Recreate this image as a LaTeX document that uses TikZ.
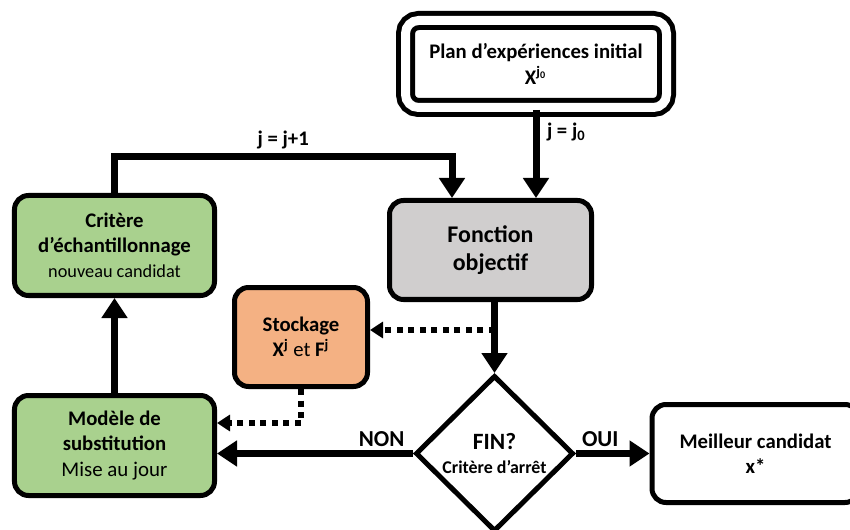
\documentclass[tikz,border=0pt]{standalone}
\usepackage{fontspec}
\setmainfont{Carlito}
\usepackage{tikz}
\usetikzlibrary{calc}
\usetikzlibrary{shapes}
\usetikzlibrary{arrows.meta}

\definecolor{vert}{HTML}{A9D18E}
\definecolor{gris}{HTML}{D0CECE}
\definecolor{saumon}{HTML}{F4B183}

\begin{document}
\begin{tikzpicture}[
  bloc/.style = {rectangle, rounded corners = 0.28cm, draw = black, line width = 0.1cm, align = center, inner sep = 0pt, minimum width = 4cm, minimum height = 2cm, font = \bfseries\fontsize{11.8}{14.3}\selectfont},
  fleche/.style = {line width = 0.14cm, -{Triangle[length = 0.4cm, width = 0.5cm]}},
  pointille/.style = {line width = 0.11cm, dash pattern = on 0.12cm off 0.11cm, -{Triangle[length = 0.26cm, width = 0.32cm]}},
  etiquette/.style = {inner sep = 2pt, font = \bfseries\fontsize{13}{15}\selectfont}
]
\useasboundingbox (0,0) rectangle (17,-10.6);
\clip (0,0) rectangle (17,-10.6);

\draw (10.72,-1.28) node[bloc, double, double distance = 0.18cm, rounded corners = 0.26cm, minimum width = 5.22cm, minimum height = 1.74cm, name = plan]{Plan d’expériences initial\\X\textsuperscript{j\textsubscript{0}}};
\draw (9.81,-5.0) node[bloc, fill = gris, minimum width = 4.04cm, minimum height = 1.98cm, font = \bfseries\fontsize{13.6}{16}\selectfont, name = fonction]{Fonction\\objectif};
\draw (2.29,-4.91) node[bloc, fill = vert, name = critere]{Critère\\d’échantillonnage\\{\mdseries\fontsize{10.4}{12}\selectfont nouveau candidat}};
\draw (fonction) + (-3.79,-1.74) node[bloc, fill = saumon, minimum width = 2.66cm, minimum height = 1.98cm, name = stockage]{Stockage\\X\textsuperscript{j} {\mdseries et} F\textsuperscript{j}};
\draw (critere) + (0,-4.0) node[bloc, fill = vert, name = modele]{Modèle de\\substitution\\{\mdseries\fontsize{11.9}{14.3}\selectfont Mise au jour}};
\draw (9.89,-9.07) node[diamond, aspect = 1, draw = black, line width = 0.1cm, fill = white, inner sep = 0pt, minimum width = 3.16cm, minimum height = 3.12cm, align = center, font = \bfseries\fontsize{13.3}{13.6}\selectfont, name = fin]{FIN?\\{\fontsize{10.2}{12}\selectfont Critère d’arrêt}};
\draw (fin) + (5.22,0) node[bloc, minimum width = 4.14cm, minimum height = 1.96cm, name = meilleur]{Meilleur candidat\\x*};

% boucle principale
\draw[fleche] (plan.south) -- (plan.south |- fonction.north) node[pos = 0.25, right, etiquette, font = \bfseries\fontsize{11.8}{14}\selectfont, xshift = 0.08cm]{j = j\textsubscript{0}};
\draw[fleche] (critere.north) |- node[pos = 0.75, above, etiquette, font = \bfseries\fontsize{11.8}{14}\selectfont]{j = j+1} ($(fonction.north) + (-0.77,0.83)$) -- ($(fonction.north) + (-0.77,0)$);
\draw[fleche] (fonction.south -| fin.north) -- (fin.north);
\draw[fleche] (fin.west) -- (fin.west -| modele.east) node[pos = 0.16, above, etiquette]{NON};
\draw[fleche] (fin.east) -- (meilleur.west) node[pos = 0.33, above, etiquette]{OUI};
\draw[fleche] (modele.north) -- (critere.south);

% stockage
\coordinate (sortie) at ($(fonction.south -| fin.north) + (0,-0.56)$);
\draw[pointille] (sortie) -- (sortie -| stockage.east);
\draw[pointille] (stockage.south) |- ($(modele.east) + (0,0.45)$);
\end{tikzpicture}
\end{document}
